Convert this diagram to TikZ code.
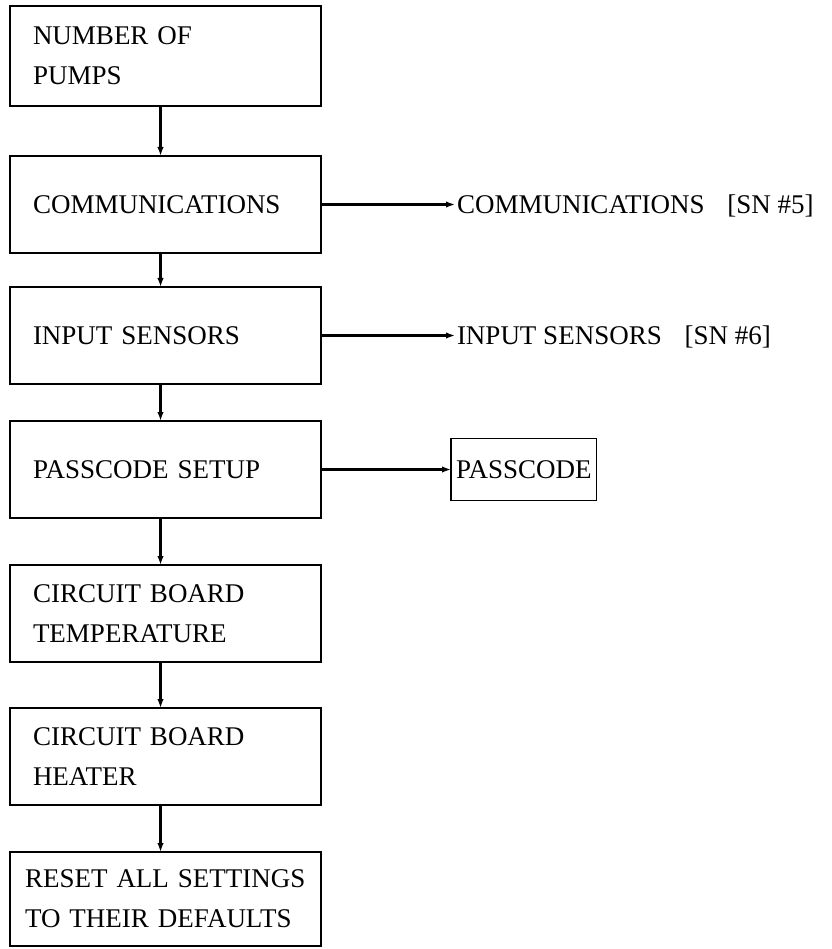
\documentclass[tikz,border=0pt]{standalone}
\usepackage{fontspec}
\setmainfont{Liberation Serif}
\usepackage{tikz}
\usetikzlibrary{positioning}
\usetikzlibrary{arrows.meta}
\tikzset{menu box/.style={
          draw, line width=1.7pt, outer sep=0pt,
          minimum width=311pt, minimum height=97pt,
          inner xsep=23pt, text width=265pt, align=left,
          font=\fontsize{27}{40}\selectfont
          },
        side label/.style={
          inner xsep=2pt, outer sep=0pt, text height=18pt, text depth=0pt,
          font=\fontsize{27}{40}\selectfont
          },
        flow/.style={line width=2.2pt, -{Latex[length=9pt,width=6.5pt]}},
}

\begin{document}
\begin{tikzpicture}[x=1pt, y=1pt]
      \useasboundingbox (0,0) rectangle (831,-949);
      % MENU COLUMN
      \node[menu box, minimum height=100pt, anchor=north west] (pumps) at (10,-6) {NUMBER OF\\PUMPS};
      \node[menu box, below=50pt of pumps] (comms) {COMMUNICATIONS};
      \node[menu box, below=34pt of comms] (sensors) {INPUT SENSORS};
      \node[menu box, below=37pt of sensors] (passset) {PASSCODE SETUP};
      \node[menu box, below=47pt of passset] (boardtemp) {CIRCUIT BOARD\\TEMPERATURE};
      \node[menu box, below=46pt of boardtemp] (heater) {CIRCUIT BOARD\\HEATER};
      \node[menu box, below=47pt of heater, minimum height=94pt, inner xsep=15pt, text width=281pt] (reset) {RESET ALL SETTINGS\\TO THEIR DEFAULTS};

      % SUB MENUS
      \node[side label, right=134pt of comms] (commsub) {COMMUNICATIONS\hspace{0.85em}[SN \#5]};
      \node[side label, right=134pt of sensors] (sensorsub) {INPUT SENSORS\hspace{0.85em}[SN \#6]};
      \node[draw, line width=1.4pt, outer sep=0pt, minimum height=62pt, inner xsep=5pt, text height=18pt, text depth=0pt,
            font=\fontsize{27}{40}\selectfont, right=130pt of passset] (passcode) {PASSCODE};

      % WIRING
      \foreach \a/\b in {pumps/comms, comms/sensors, sensors/passset, passset/boardtemp, boardtemp/heater, heater/reset}
        \draw[flow] ([xshift=-5pt]\a.south) -- ([xshift=-5pt]\b.north);
      \draw(comms.east)[flow] -- (commsub.west);
      \draw(sensors.east)[flow] -- (sensorsub.west);
      \draw(passset.east)[flow] -- (passcode.west);
\end{tikzpicture}
\end{document}
